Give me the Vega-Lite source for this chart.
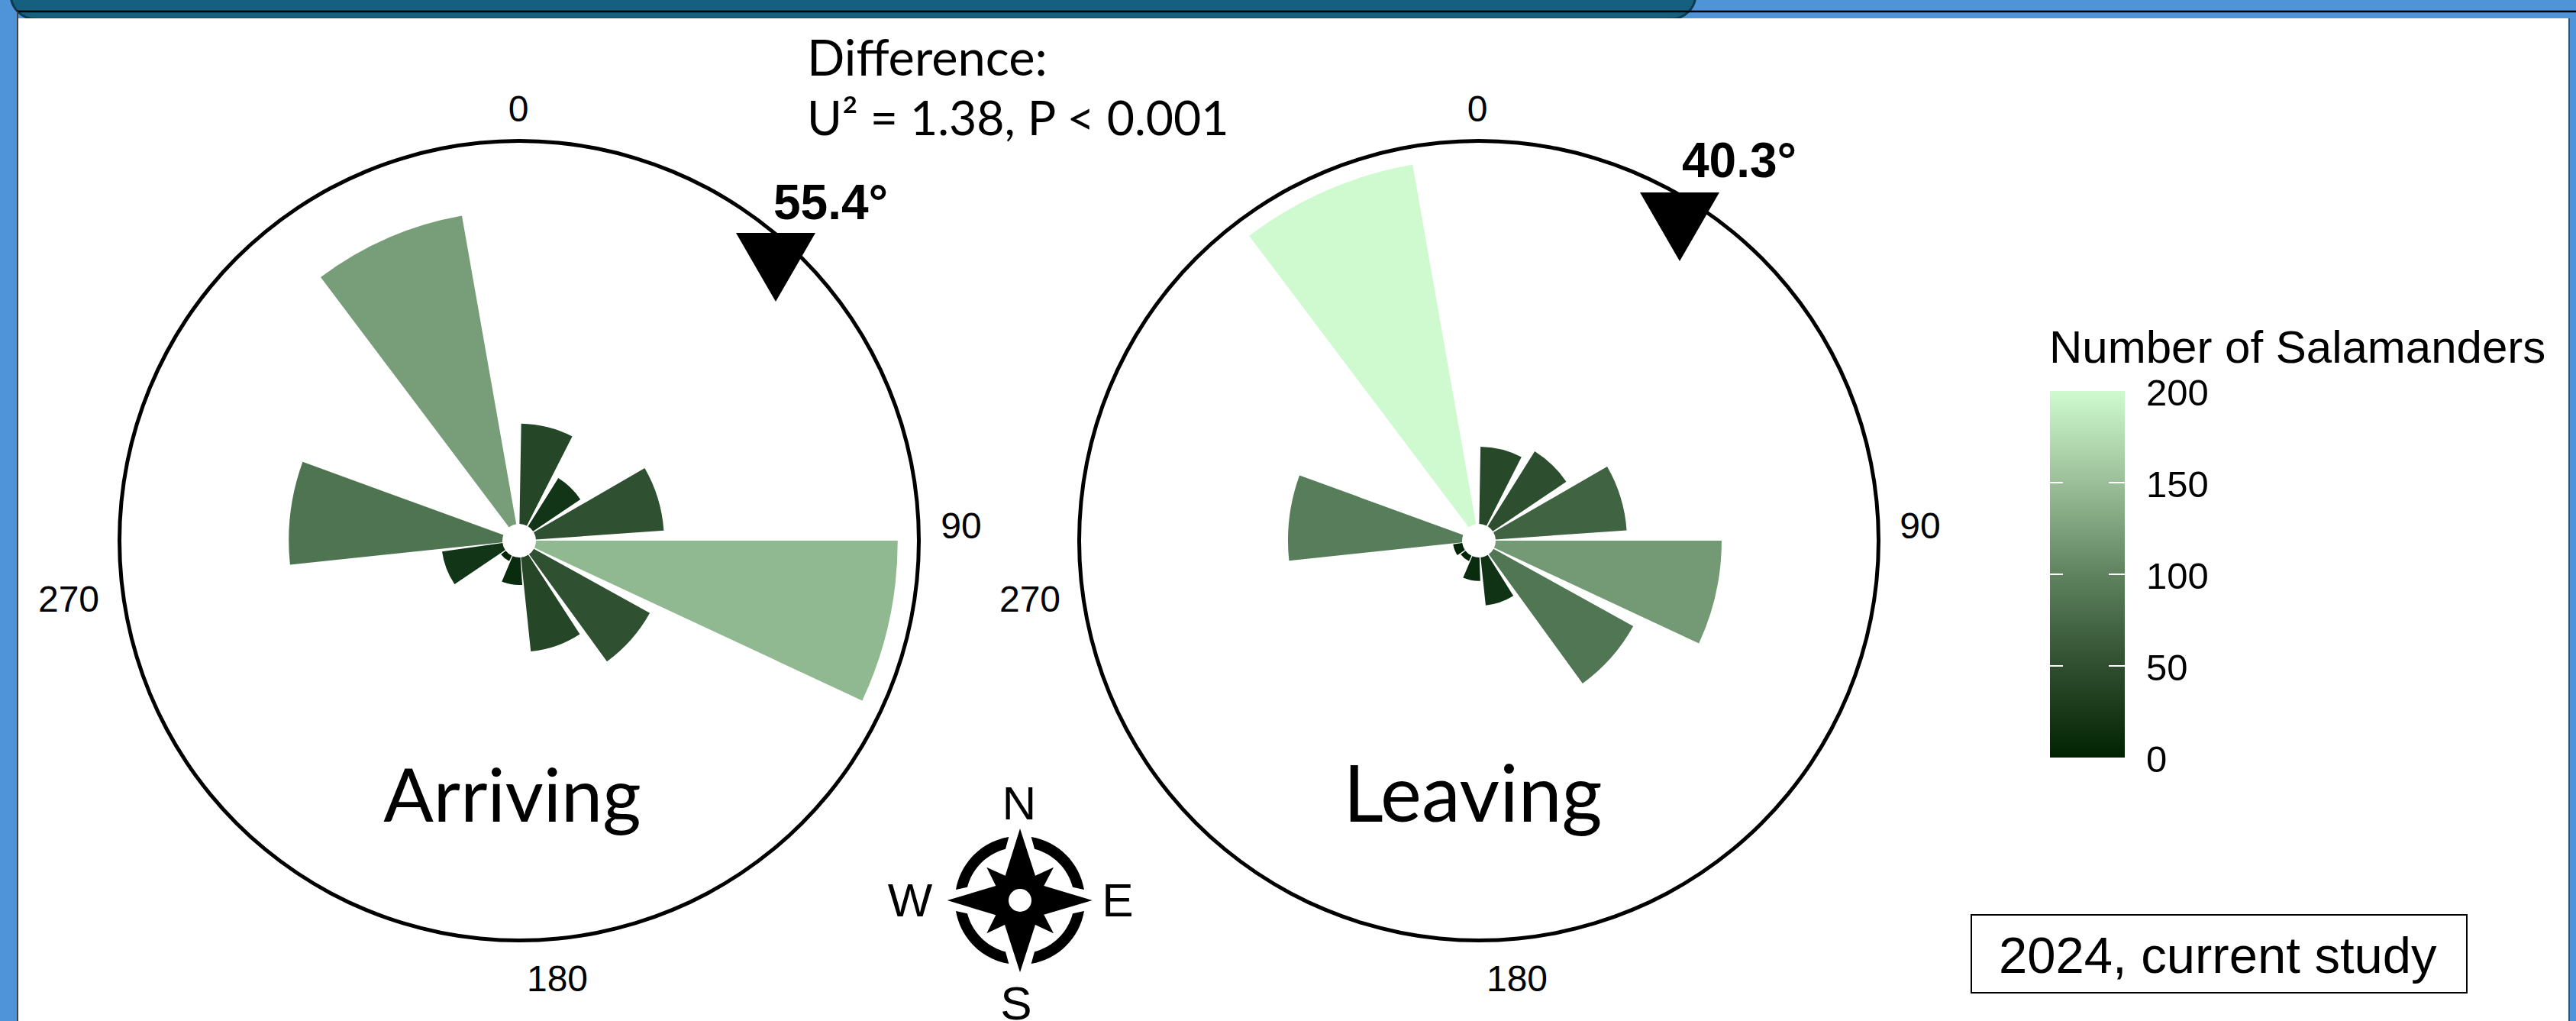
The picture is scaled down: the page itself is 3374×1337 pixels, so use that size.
{"$schema":"https://vega.github.io/schema/vega-lite/v6.json","width":3374,"height":1337,"padding":0,"autosize":{"type":"none"},"background":"#ffffff","config":{"view":{"stroke":null},"style":{"tick":{"font":"Liberation Sans","fontSize":48,"fill":"#4d4d4d","align":"center","baseline":"alphabetic"},"mean":{"font":"Liberation Sans","fontSize":64,"fontWeight":"bold","fill":"#000000","align":"left","baseline":"alphabetic"},"panel":{"font":"Lato","fontSize":97,"fill":"#000000","align":"center","baseline":"alphabetic"},"note":{"font":"Lato","fontSize":63,"fill":"#000000","align":"left","baseline":"alphabetic"},"compass":{"font":"Liberation Sans","fontSize":58,"fill":"#000000","align":"center","baseline":"alphabetic"}}},"datasets":{"rose":[{"panel":"Arriving","start":1,"end":27,"length":29.3,"count":40},{"panel":"Arriving","start":32,"end":56,"length":18.5,"count":20},{"panel":"Arriving","start":60,"end":86,"length":36.3,"count":50},{"panel":"Arriving","start":90,"end":115,"length":94.8,"count":145},{"panel":"Arriving","start":119,"end":144,"length":37.4,"count":50},{"panel":"Arriving","start":147,"end":174,"length":27.9,"count":40},{"panel":"Arriving","start":176,"end":203,"length":11.1,"count":10},{"panel":"Arriving","start":206,"end":233,"length":5.7,"count":5},{"panel":"Arriving","start":236,"end":262,"length":19.5,"count":20},{"panel":"Arriving","start":264,"end":290,"length":57.7,"count":83},{"panel":"Arriving","start":323,"end":350,"length":82.6,"count":122},{"panel":"Leaving","start":1,"end":27,"length":23.5,"count":42},{"panel":"Leaving","start":32,"end":56,"length":26.4,"count":48},{"panel":"Leaving","start":60,"end":86,"length":37.1,"count":68},{"panel":"Leaving","start":90,"end":115,"length":60.8,"count":118},{"panel":"Leaving","start":119,"end":144,"length":44.2,"count":85},{"panel":"Leaving","start":148,"end":174,"length":16.3,"count":18},{"panel":"Leaving","start":178,"end":203,"length":10.1,"count":10},{"panel":"Leaving","start":206,"end":233,"length":5.7,"count":4},{"panel":"Leaving","start":236,"end":262,"length":6.5,"count":4},{"panel":"Leaving","start":264,"end":290,"length":47.8,"count":92},{"panel":"Leaving","start":323,"end":350,"length":95.6,"count":200}]},"layer":[{"data":{"values":[{"part":"top"}]},"mark":{"type":"rect","fill":"#4f94d9"},"encoding":{"x":{"value":0},"x2":{"value":3374},"y":{"value":0},"y2":{"value":24}}},{"data":{"values":[{"part":"left"}]},"mark":{"type":"rect","fill":"#4f94d9"},"encoding":{"x":{"value":0},"x2":{"value":22},"y":{"value":0},"y2":{"value":1337}}},{"data":{"values":[{"part":"right"}]},"mark":{"type":"rect","fill":"#4f94d9"},"encoding":{"x":{"value":3365},"x2":{"value":3374},"y":{"value":0},"y2":{"value":1337}}},{"data":{"values":[{"part":"band"}]},"mark":{"type":"rect","fill":"#15607f","stroke":"#0b3b50","strokeWidth":3,"cornerRadiusBottomLeft":50,"cornerRadiusBottomRight":50},"encoding":{"x":{"value":14},"x2":{"value":2221},"y":{"value":-40},"y2":{"value":25}}},{"data":{"values":[{"part":"rule"}]},"mark":{"type":"rule","color":"#000000","strokeWidth":2.5},"encoding":{"x":{"value":22},"x2":{"value":3374},"y":{"value":15}}},{"data":{"values":[{"part":"rule"}]},"mark":{"type":"rect","fill":"#ffffff"},"encoding":{"x":{"value":24},"x2":{"value":3364},"y":{"value":24},"y2":{"value":29}}},{"data":{"values":[{"part":"rule"}]},"mark":{"type":"rule","color":"#444444","strokeWidth":2},"encoding":{"x":{"value":23},"y":{"value":15},"y2":{"value":1337}}},{"data":{"values":[{"part":"rule"}]},"mark":{"type":"rule","color":"#335577","strokeWidth":2},"encoding":{"x":{"value":3365},"y":{"value":24},"y2":{"value":1337}}},{"data":{"values":[{"panel":"Arriving"},{"panel":"Leaving"}]},"mark":{"type":"arc","fill":"#000000","theta":0,"theta2":6.2832,"outerRadius":526,"innerRadius":521},"encoding":{"x":{"field":"panel","type":"nominal","axis":null,"scale":{"domain":["Arriving","Leaving"],"range":[680,1937],"padding":0}},"y":{"value":708}}},{"data":{"name":"rose"},"mark":{"type":"arc","innerRadius":22,"stroke":null},"encoding":{"x":{"field":"panel","type":"nominal","axis":null,"scale":{"domain":["Arriving","Leaving"],"range":[680,1937],"padding":0}},"y":{"value":708},"theta":{"field":"start","type":"quantitative","scale":{"domain":[0,360]},"stack":null},"theta2":{"field":"end"},"radius":{"field":"length","type":"quantitative","scale":{"type":"linear","domain":[0,100],"range":[0,523]}},"color":{"field":"count","type":"quantitative","scale":{"domain":[0,200],"range":["#012201","#cffacf"],"interpolate":"lab"},"legend":null}}},{"data":{"values":[{"t":"gradient"}]},"mark":{"type":"rect","fill":{"gradient":"linear","x1":0,"y1":1,"x2":0,"y2":0,"stops":[{"offset":0,"color":"#012201"},{"offset":0.25,"color":"#2f4e2f"},{"offset":0.5,"color":"#5f835f"},{"offset":0.75,"color":"#9bbf98"},{"offset":1,"color":"#cffacf"}]}},"encoding":{"x":{"value":2685},"x2":{"value":2783},"y":{"value":512},"y2":{"value":992}}},{"data":{"values":[{"count":50},{"count":100},{"count":150}]},"mark":{"type":"rule","color":"#ffffff","strokeWidth":2},"encoding":{"x":{"value":2685},"x2":{"value":2702},"y":{"field":"count","type":"quantitative","axis":null,"scale":{"domain":[0,200],"range":[992,512]}}}},{"data":{"values":[{"count":50},{"count":100},{"count":150}]},"mark":{"type":"rule","color":"#ffffff","strokeWidth":2},"encoding":{"x":{"value":2762},"x2":{"value":2783},"y":{"field":"count","type":"quantitative","axis":null,"scale":{"domain":[0,200],"range":[992,512]}}}},{"data":{"values":[{"count":0},{"count":50},{"count":100},{"count":150},{"count":200}]},"mark":{"type":"text","font":"Liberation Sans","fontSize":49,"fill":"#000000","align":"left","baseline":"middle","dy":4},"encoding":{"text":{"field":"count","type":"quantitative"},"x":{"value":2811},"y":{"field":"count","type":"quantitative","axis":null,"scale":{"domain":[0,200],"range":[992,512]}}}},{"data":{"values":[{"t":"Number of Salamanders"}]},"mark":{"type":"text","font":"Liberation Sans","fontSize":60,"fill":"#000000","align":"left","baseline":"alphabetic"},"encoding":{"text":{"field":"t"},"x":{"value":2684},"y":{"value":475}}},{"data":{"values":[{"panel":"Arriving","mean":55.4}]},"mark":{"type":"point","shape":"triangle-down","filled":true,"color":"#000000","opacity":1,"size":10816},"encoding":{"x":{"value":1016},"y":{"value":350}}},{"data":{"values":[{"panel":"Leaving","mean":40.3}]},"mark":{"type":"point","shape":"triangle-down","filled":true,"color":"#000000","opacity":1,"size":10816},"encoding":{"x":{"value":2200},"y":{"value":297}}},{"data":{"values":[{"t":"55.4°"}]},"mark":{"type":"text","style":"mean"},"encoding":{"text":{"field":"t"},"x":{"value":1013},"y":{"value":287}}},{"data":{"values":[{"t":"40.3°"}]},"mark":{"type":"text","style":"mean"},"encoding":{"text":{"field":"t"},"x":{"value":2203},"y":{"value":232}}},{"data":{"values":[{"t":"0"}]},"mark":{"type":"text","style":"tick"},"encoding":{"text":{"field":"t"},"x":{"value":679},"y":{"value":159}}},{"data":{"values":[{"t":"90"}]},"mark":{"type":"text","style":"tick"},"encoding":{"text":{"field":"t"},"x":{"value":1259},"y":{"value":705}}},{"data":{"values":[{"t":"180"}]},"mark":{"type":"text","style":"tick"},"encoding":{"text":{"field":"t"},"x":{"value":730},"y":{"value":1298}}},{"data":{"values":[{"t":"270"}]},"mark":{"type":"text","style":"tick"},"encoding":{"text":{"field":"t"},"x":{"value":90},"y":{"value":801}}},{"data":{"values":[{"t":"0"}]},"mark":{"type":"text","style":"tick"},"encoding":{"text":{"field":"t"},"x":{"value":1935},"y":{"value":159}}},{"data":{"values":[{"t":"90"}]},"mark":{"type":"text","style":"tick"},"encoding":{"text":{"field":"t"},"x":{"value":2515},"y":{"value":705}}},{"data":{"values":[{"t":"180"}]},"mark":{"type":"text","style":"tick"},"encoding":{"text":{"field":"t"},"x":{"value":1987},"y":{"value":1298}}},{"data":{"values":[{"t":"270"}]},"mark":{"type":"text","style":"tick"},"encoding":{"text":{"field":"t"},"x":{"value":1349},"y":{"value":801}}},{"data":{"values":[{"t":"Arriving"}]},"mark":{"type":"text","style":"panel"},"encoding":{"text":{"field":"t"},"x":{"value":671},"y":{"value":1076}}},{"data":{"values":[{"t":"Leaving"}]},"mark":{"type":"text","style":"panel","fontSize":102},"encoding":{"text":{"field":"t"},"x":{"value":1929},"y":{"value":1076}}},{"data":{"values":[{"t":"Difference:"}]},"mark":{"type":"text","style":"note","fontSize":65},"encoding":{"text":{"field":"t"},"x":{"value":1057},"y":{"value":99}}},{"data":{"values":[{"t":"U² = 1.38, P < 0.001"}]},"mark":{"type":"text","style":"note","fontSize":62.5},"encoding":{"text":{"field":"t"},"x":{"value":1057},"y":{"value":177}}},{"data":{"values":[{"t":"box"}]},"mark":{"type":"rect","fill":"#ffffff","stroke":"#000000","strokeWidth":2},"encoding":{"x":{"value":2582},"x2":{"value":3231},"y":{"value":1198},"y2":{"value":1300}}},{"data":{"values":[{"t":"2024, current study"}]},"mark":{"type":"text","font":"Liberation Sans","fontSize":67,"fill":"#000000","align":"left","baseline":"alphabetic"},"encoding":{"text":{"field":"t"},"x":{"value":2618},"y":{"value":1274}}},{"data":{"values":[{"t":"compass"}]},"mark":{"type":"point","filled":true,"color":"#000000","opacity":1,"size":40000,"shape":"M0,-0.94 L0.2,-0.323 L0.44,-0.433 L0.313,-0.19 L0.947,0 L0.313,0.187 L0.44,0.433 L0.2,0.32 L0,0.943 L-0.2,0.32 L-0.437,0.433 L-0.317,0.193 L-0.953,0 L-0.317,-0.19 L-0.437,-0.433 L-0.193,-0.323 Z M0.147,-0.83 A0.843,0.843 0 0 1 0.84,-0.14 L0.69,-0.173 A0.7,0.7 0 0 0 0.19,-0.673 Z M0.84,0.14 A0.843,0.843 0 0 1 0.147,0.83 L0.19,0.673 A0.7,0.7 0 0 0 0.69,0.173 Z M-0.147,0.83 A0.843,0.843 0 0 1 -0.84,0.14 L-0.69,0.173 A0.7,0.7 0 0 0 -0.19,0.673 Z M-0.84,-0.14 A0.843,0.843 0 0 1 -0.147,-0.83 L-0.19,-0.673 A0.7,0.7 0 0 0 -0.69,-0.173 Z"},"encoding":{"x":{"value":1336},"y":{"value":1179}}},{"data":{"values":[{"t":"hub"}]},"mark":{"type":"point","shape":"circle","filled":true,"color":"#ffffff","opacity":1,"size":900},"encoding":{"x":{"value":1336},"y":{"value":1179}}},{"data":{"values":[{"t":"N"}]},"mark":{"type":"text","style":"compass","fontSize":62},"encoding":{"text":{"field":"t"},"x":{"value":1335},"y":{"value":1073}}},{"data":{"values":[{"t":"W"}]},"mark":{"type":"text","style":"compass","fontSize":62},"encoding":{"text":{"field":"t"},"x":{"value":1192},"y":{"value":1200}}},{"data":{"values":[{"t":"E"}]},"mark":{"type":"text","style":"compass","fontSize":62},"encoding":{"text":{"field":"t"},"x":{"value":1464},"y":{"value":1200}}},{"data":{"values":[{"t":"S"}]},"mark":{"type":"text","style":"compass","fontSize":62},"encoding":{"text":{"field":"t"},"x":{"value":1331},"y":{"value":1335}}}]}
